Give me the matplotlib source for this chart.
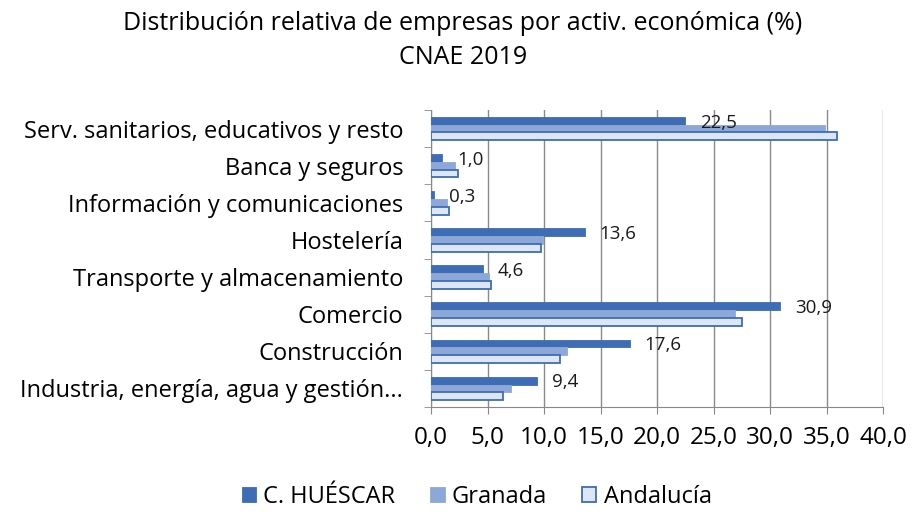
import matplotlib
matplotlib.use("Agg")
import matplotlib.pyplot as plt
import numpy as np

categories = ["Industria, energía, agua y gestión...", "Construcción", "Comercio",
              "Transporte y almacenamiento", "Hostelería", "Información y comunicaciones",
              "Banca y seguros", "Serv. sanitarios, educativos y resto"]
huescar = [9.4, 17.6, 30.9, 4.6, 13.6, 0.3, 1.0, 22.5]
granada = [7.1, 12.0, 26.9, 5.1, 9.9, 1.4, 2.1, 34.9]
andalucia = [6.4, 11.4, 27.5, 5.3, 9.7, 1.6, 2.4, 35.9]
series_names = ["C. HUÉSCAR", "Granada", "Andalucía"]
xticks = [0, 5, 10, 15, 20, 25, 30, 35, 40]

plt.rcParams['font.family'] = ['Open Sans', 'DejaVu Sans']

fig = plt.figure(figsize=(9.13, 5.12), dpi=100)
ax = fig.add_axes([431/913, 1-407/512, (883-431)/913, (407-110)/512])

y = np.arange(len(categories))
h = 0.21
c1, c2, c3 = "#3E6DB5", "#8DA8D8", "#DCE6F4"
ax.barh(y + h, huescar, height=h, color=c1, edgecolor=c1, linewidth=0.6, zorder=3, label=series_names[0])
ax.barh(y, granada, height=h, color=c2, edgecolor=c2, linewidth=0.6, zorder=3, label=series_names[1])
ax.barh(y - h, andalucia, height=h, color=c3, edgecolor="#3E6DB5", linewidth=1.3, zorder=3, label=series_names[2])

for yi, v in zip(y, huescar):
    ax.text(v + 1.3, yi + h - 0.05, f"{v:.1f}".replace(".", ","), va="center", ha="left",
            fontsize=13.5, color="#1a1a1a", zorder=4)

ax.set_xlim(0, 40)
ax.set_ylim(-0.5, len(categories) - 0.5)
ax.set_xticks(xticks)
ax.set_xticklabels([f"{t:.1f}".replace(".", ",") for t in xticks], fontsize=17.5)
ax.set_yticks(y)
ax.set_yticklabels(categories, fontsize=17)
ax.set_yticks(np.arange(-0.5, len(categories), 1), minor=True)
ax.tick_params(axis='y', which='major', length=0, pad=20)
ax.tick_params(axis='y', which='minor', length=5, color="#888888")
ax.tick_params(axis='x', length=5, color="#888888", pad=9)
ax.grid(axis='x', color="#8a8a8a", linewidth=1.0, zorder=0)
for s in ["top", "right"]:
    ax.spines[s].set_visible(False)
for s in ["left", "bottom"]:
    ax.spines[s].set_color("#888888")

fig.text(0.507, 1-23/512, "Distribución relativa de empresas por activ. económica (%)", ha="center",
         va="center", fontsize=18)
fig.text(0.507, 1-58/512, "CNAE 2019", ha="center", va="center", fontsize=18)

fig.legend(loc="center", bbox_to_anchor=(0.522, 1-497/512), ncol=3, frameon=False, fontsize=17,
           handlelength=0.6, handleheight=0.6, columnspacing=1.5, handletextpad=0.3)

fig.savefig("out.png", dpi=100)
